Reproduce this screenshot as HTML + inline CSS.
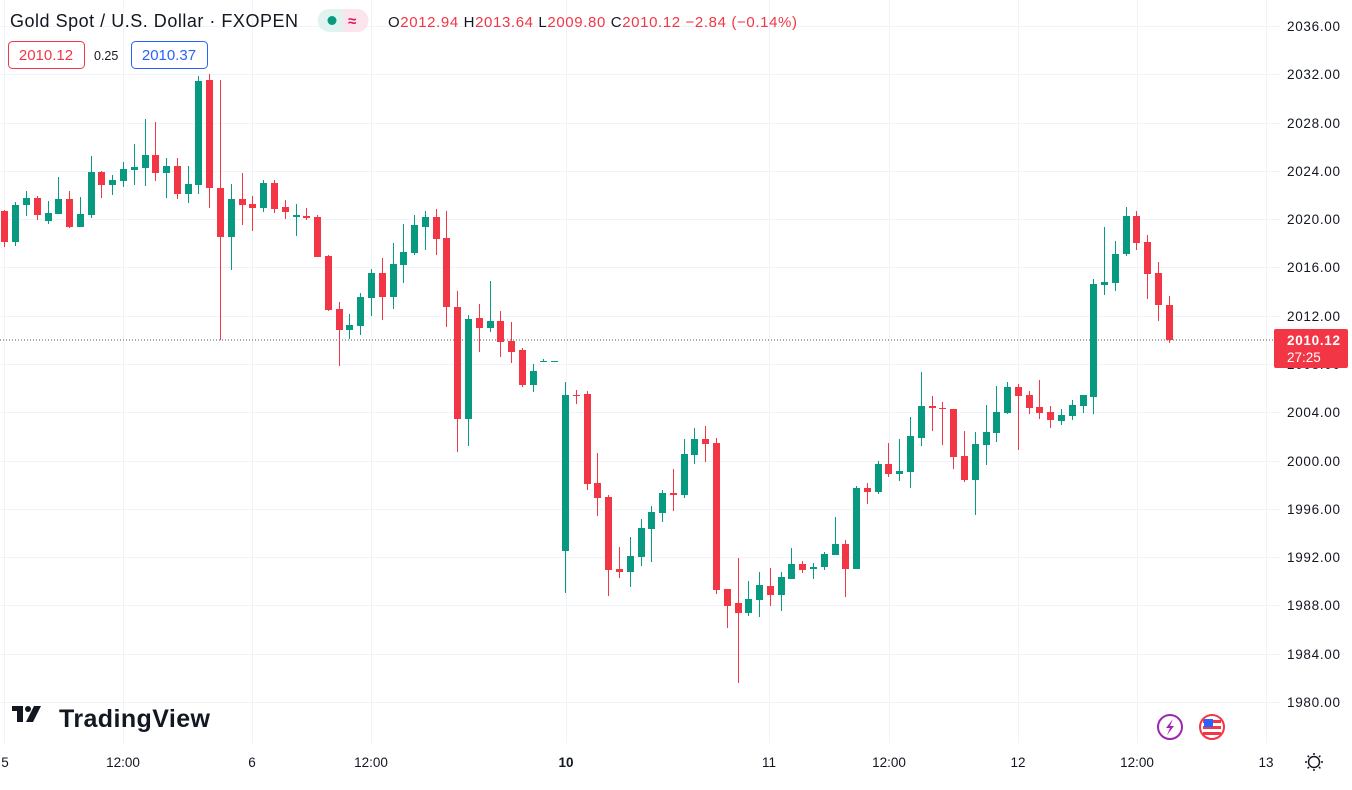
<!DOCTYPE html>
<html><head><meta charset="utf-8"><style>
body{margin:0;background:#fff;width:1352px;height:790px;overflow:hidden;font-family:"Liberation Sans",sans-serif}
svg{position:absolute;left:0;top:0}
</style></head><body>
<svg width="1352" height="790" xmlns="http://www.w3.org/2000/svg" font-family="Liberation Sans, sans-serif">
<g stroke="#f0f3fa" stroke-width="1">
<line x1="0" x2="1280" y1="26.5" y2="26.5"/><line x1="0" x2="1280" y1="74.5" y2="74.5"/><line x1="0" x2="1280" y1="123.5" y2="123.5"/><line x1="0" x2="1280" y1="171.5" y2="171.5"/><line x1="0" x2="1280" y1="219.5" y2="219.5"/><line x1="0" x2="1280" y1="267.5" y2="267.5"/><line x1="0" x2="1280" y1="316.5" y2="316.5"/><line x1="0" x2="1280" y1="364.5" y2="364.5"/><line x1="0" x2="1280" y1="412.5" y2="412.5"/><line x1="0" x2="1280" y1="461.5" y2="461.5"/><line x1="0" x2="1280" y1="509.5" y2="509.5"/><line x1="0" x2="1280" y1="557.5" y2="557.5"/><line x1="0" x2="1280" y1="605.5" y2="605.5"/><line x1="0" x2="1280" y1="654.5" y2="654.5"/><line x1="0" x2="1280" y1="702.5" y2="702.5"/>
<line x1="4.5" x2="4.5" y1="0" y2="743"/><line x1="123.5" x2="123.5" y1="0" y2="743"/><line x1="252.5" x2="252.5" y1="0" y2="743"/><line x1="371.5" x2="371.5" y1="0" y2="743"/><line x1="566.5" x2="566.5" y1="0" y2="743"/><line x1="769.5" x2="769.5" y1="0" y2="743"/><line x1="889.5" x2="889.5" y1="0" y2="743"/><line x1="1018.5" x2="1018.5" y1="0" y2="743"/><line x1="1137.5" x2="1137.5" y1="0" y2="743"/><line x1="1266.5" x2="1266.5" y1="0" y2="743"/>
</g>
<line x1="0" x2="1275" y1="340" y2="340" stroke="#555" stroke-width="1" stroke-dasharray="1,2"/>
<g id="c"></g>
<g font-size="13.5" fill="#131722">
<text x="1287" y="31" textLength="53">2036.00</text><text x="1287" y="79" textLength="53">2032.00</text><text x="1287" y="128" textLength="53">2028.00</text><text x="1287" y="176" textLength="53">2024.00</text><text x="1287" y="224" textLength="53">2020.00</text><text x="1287" y="272" textLength="53">2016.00</text><text x="1287" y="321" textLength="53">2012.00</text><text x="1287" y="369" textLength="53">2008.00</text><text x="1287" y="417" textLength="53">2004.00</text><text x="1287" y="466" textLength="53">2000.00</text><text x="1287" y="514" textLength="53">1996.00</text><text x="1287" y="562" textLength="53">1992.00</text><text x="1287" y="610" textLength="53">1988.00</text><text x="1287" y="659" textLength="53">1984.00</text><text x="1287" y="707" textLength="53">1980.00</text>
</g>
<rect x="1274" y="329" width="74" height="39" rx="2" fill="#F23645"/>
<text x="1287" y="345" font-size="13.5" font-weight="bold" fill="#fff" textLength="53">2010.12</text>
<text x="1287" y="362" font-size="13.5" fill="#fff">27:25</text>
<g font-size="13.5" fill="#131722" text-anchor="middle">
<text x="5" y="767">5</text><text x="123" y="767">12:00</text><text x="252" y="767">6</text><text x="371" y="767">12:00</text><text x="566" y="767" font-weight="bold">10</text><text x="769" y="767">11</text><text x="889" y="767">12:00</text><text x="1018" y="767">12</text><text x="1137" y="767">12:00</text><text x="1266" y="767">13</text>
</g>
<g transform="translate(1314,762)" stroke="#131722" stroke-width="1.5" fill="none"><circle r="5.5"/><path d="M0-9v2M0 7v2M-9 0h2M7 0h2M-6.4-6.4l1.4 1.4M5 5l1.4 1.4M-6.4 6.4l1.4-1.4M5-5l1.4-1.4"/></g>
<circle cx="1170" cy="727" r="12" fill="none" stroke="#9c27b0" stroke-width="2"/>
<path d="M1173 719l-7 9h4l-3 7 7-9h-4z" fill="#9c27b0"/>
<circle cx="1212" cy="727" r="12" fill="#fff" stroke="#F23645" stroke-width="2"/>
<rect x="1203" y="720" width="18" height="3" fill="#F23645"/><rect x="1203" y="726" width="18" height="3" fill="#F23645"/><rect x="1203" y="732" width="18" height="3" fill="#F23645"/><rect x="1204" y="719" width="9" height="8" fill="#2962ff"/>
<g transform="translate(12,706)" fill="#131722"><rect x="0" y="0" width="11" height="5"/><rect x="5" y="0" width="6" height="16"/><circle cx="16" cy="3" r="3"/><path d="M22 0h7l-8 16h-7z"/></g>
<text x="59" y="727" font-size="25" font-weight="bold" fill="#131722" textLength="151">TradingView</text>
<text x="10" y="27" font-size="18" fill="#131722" textLength="288">Gold Spot / U.S. Dollar · FXOPEN</text>
<rect x="318" y="9" width="50" height="23" rx="11" fill="#e0f3ef"/><path d="M343 9h14a11 11 0 0 1 0 23h-14z" fill="#fce4ec"/>
<circle cx="332" cy="20.5" r="4.5" fill="#089981"/><text x="348" y="26" font-size="15" font-weight="bold" fill="#d81b60">≈</text>
<g font-size="15" fill="#131722"><text x="388" y="27" textLength="409">O<tspan fill="#F23645">2012.94</tspan> H<tspan fill="#F23645">2013.64</tspan> L<tspan fill="#F23645">2009.80</tspan> C<tspan fill="#F23645">2010.12</tspan> <tspan fill="#F23645">−2.84 (−0.14%)</tspan></text></g>
<rect x="8.5" y="41.5" width="76" height="27" rx="4" fill="#fff" stroke="#F23645"/><text x="46" y="60" font-size="15" fill="#F23645" text-anchor="middle">2010.12</text>
<text x="94" y="60" font-size="12.5" fill="#131722">0.25</text>
<rect x="131.5" y="41.5" width="76" height="27" rx="4" fill="#fff" stroke="#2962ff"/><text x="169" y="60" font-size="15" fill="#2962ff" text-anchor="middle">2010.37</text>
</svg>
<script>
var d=[[4,211,242,210,247,0],[15,205,242,202,246,1],[26,198,205,191,216,1],[37,198,215,196,220,0],[48,213,221,201,224,1],[58,199,214,177,214,1],[69,199,227,191,228,0],[80,214,227,197,227,1],[91,172,215,156,218,1],[101,172,185,171,198,0],[112,180,185,175,195,1],[123,169,181,162,187,1],[134,167,170,144,185,1],[145,155,168,119,186,1],[155,155,173,122,181,0],[166,166,173,158,198,1],[177,166,194,158,199,0],[188,184,194,166,203,1],[198,81,185,76,194,1],[209,80,188,74,208,0],[220,188,237,80,340,0],[231,199,237,184,270,1],[242,199,205,173,225,0],[252,204,208,196,231,0],[263,183,208,180,212,1],[274,183,209,180,213,0],[285,207,212,200,219,0],[296,215,217,204,236,1],[306,216,218,208,220,0],[317,217,257,215,257,0],[328,256,310,255,311,0],[339,309,330,302,366,0],[349,325,330,314,339,1],[360,297,326,293,335,1],[371,273,298,269,316,1],[382,273,297,258,320,0],[393,264,297,243,309,1],[403,252,265,224,283,1],[414,225,253,215,255,1],[425,217,227,211,250,1],[436,217,239,209,255,0],[446,238,307,211,327,0],[457,307,419,291,452,0],[468,319,419,315,446,1],[479,318,328,304,352,0],[490,321,328,281,332,1],[500,321,342,311,357,0],[511,341,352,322,363,0],[522,350,385,348,387,0],[533,371,385,364,392,1],[543,361,362,359,362,1],[554,361,362,361,362,1],[565,395,551,382,593,1],[576,395,396,390,404,0],[587,394,484,391,490,0],[597,483,498,453,516,0],[608,497,570,495,596,0],[619,569,572,547,578,0],[630,556,572,537,587,1],[641,528,557,519,566,1],[651,512,529,506,562,1],[662,493,513,490,522,1],[673,493,495,469,511,0],[684,454,495,439,498,1],[694,439,455,428,464,1],[705,439,444,426,462,0],[716,443,590,438,594,0],[727,589,606,589,628,0],[738,603,613,558,683,0],[748,599,613,581,616,1],[759,585,600,572,617,1],[770,586,595,568,606,0],[781,577,595,572,611,1],[791,564,579,548,579,1],[802,564,570,561,573,0],[813,567,569,563,579,1],[824,554,567,552,570,1],[835,544,555,517,555,1],[845,544,569,540,597,0],[856,488,569,486,569,1],[867,488,492,483,504,0],[878,464,492,461,494,1],[888,464,474,443,477,0],[899,471,474,439,481,1],[910,436,472,417,488,1],[921,406,438,372,446,1],[932,406,408,396,431,0],[942,408,409,402,445,0],[953,409,457,409,469,0],[964,456,480,431,482,0],[975,444,480,432,515,1],[986,432,445,405,465,1],[996,412,433,386,442,1],[1007,387,413,382,414,1],[1018,387,396,384,450,0],[1029,395,408,391,414,0],[1039,407,413,380,419,0],[1050,412,420,406,428,0],[1061,415,421,409,425,1],[1072,405,416,400,420,1],[1083,395,406,395,413,1],[1093,284,397,279,414,1],[1104,282,285,227,295,1],[1115,254,283,241,291,1],[1126,216,254,207,256,1],[1136,216,243,211,250,0],[1147,242,274,235,299,0],[1158,273,305,262,321,0],[1169,305,340,296,343,0]];
var s='';
d.forEach(function(c){var col=c[5]?'#089981':'#F23645';var x=c[0]+0.5;
s+='<line x1="'+x+'" x2="'+x+'" y1="'+c[3]+'" y2="'+c[4]+'" stroke="'+col+'" stroke-width="1"/>';
s+='<rect x="'+(c[0]-3)+'" y="'+c[1]+'" width="7" height="'+Math.max(1,c[2]-c[1])+'" fill="'+col+'"/>';});
document.getElementById('c').innerHTML=s;
</script>
</body></html>
